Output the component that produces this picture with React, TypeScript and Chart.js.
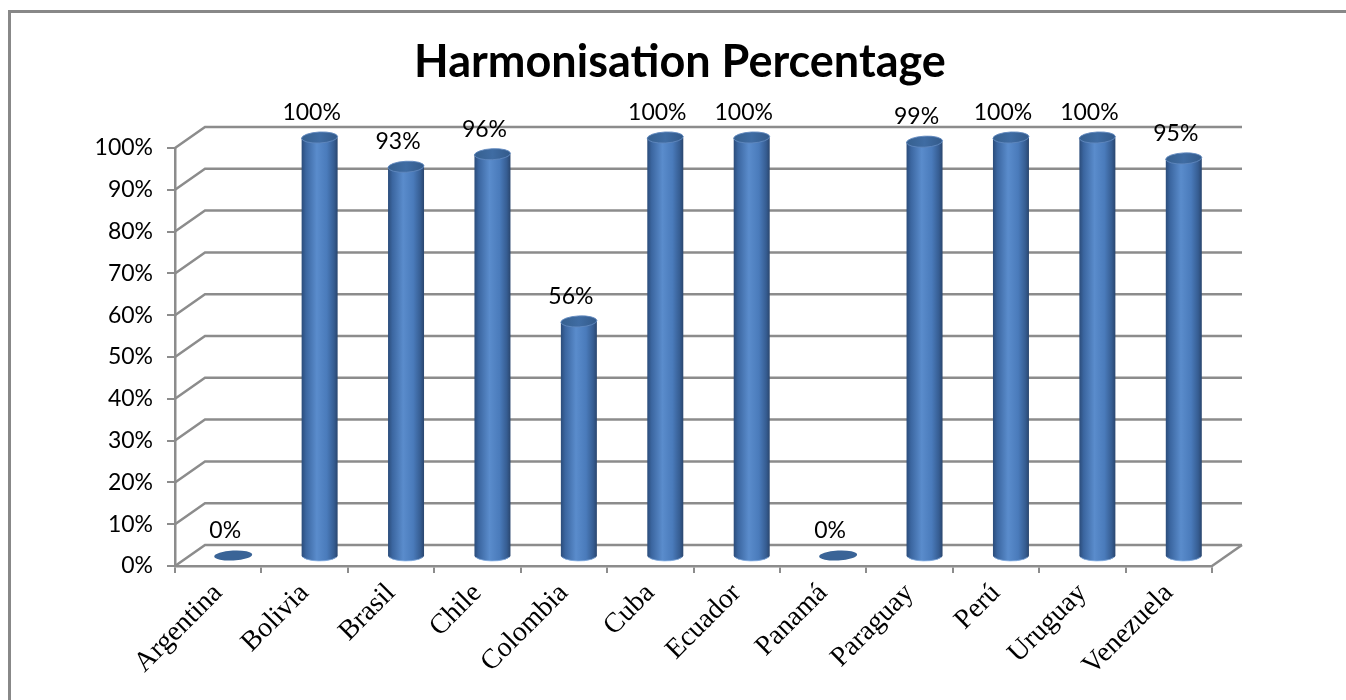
import React, { useEffect, useRef } from 'react';
import { Chart, registerables } from 'chart.js';

Chart.register(...registerables);

const categories = ['Argentina', 'Bolivia', 'Brasil', 'Chile', 'Colombia', 'Cuba', 'Ecuador', 'Panamá', 'Paraguay', 'Perú', 'Uruguay', 'Venezuela'];
const harmonisation = [0, 100, 93, 96, 56, 100, 100, 0, 99, 100, 100, 95];
const yTickValues = [0, 10, 20, 30, 40, 50, 60, 70, 80, 90, 100];
const titleText = 'Harmonisation Percentage';

const W = 1346;
const H = 700;
const DEPTH_X = 30;
const DEPTH_Y = 21;
const GRID = '#8c8c8c';
const SANS = 'Lato, "Noto Sans", sans-serif';

const wallPlugin = {
  id: 'wall3d',
  beforeDraw(chart: any) {
    const { ctx, chartArea } = chart;
    const { left, right, bottom } = chartArea;
    const y = chart.scales.y;
    ctx.save();
    // outer frame
    ctx.strokeStyle = '#888888';
    ctx.lineWidth = 3;
    ctx.beginPath();
    ctx.moveTo(9.5, chart.height);
    ctx.lineTo(9.5, 11.5);
    ctx.lineTo(chart.width, 11.5);
    ctx.stroke();
    // title
    ctx.fillStyle = '#000';
    ctx.font = `bold 45px ${SANS}`;
    ctx.textAlign = 'center';
    ctx.textBaseline = 'middle';
    ctx.fillText(titleText, 680, 62);
    // back wall + side wall grid
    ctx.strokeStyle = GRID;
    ctx.lineWidth = 2.5;
    yTickValues.forEach((v) => {
      const py = y.getPixelForValue(v);
      ctx.beginPath();
      ctx.moveTo(left, py);
      ctx.lineTo(left + DEPTH_X, py - DEPTH_Y);
      ctx.lineTo(right + DEPTH_X, py - DEPTH_Y);
      ctx.stroke();
    });
    ctx.beginPath();
    ctx.moveTo(right, bottom);
    ctx.lineTo(right + DEPTH_X, bottom - DEPTH_Y);
    ctx.stroke();
    ctx.restore();
  },
};

const cylinderPlugin = {
  id: 'cylinders',
  afterDatasetsDraw(chart: any) {
    const { ctx } = chart;
    const y = chart.scales.y;
    const meta = chart.getDatasetMeta(0);
    const rx = 18;
    const ry = 5.5;
    const tilt = -0.05;
    ctx.save();
    meta.data.forEach((bar: any, i: number) => {
      const v = harmonisation[i];
      const cx = bar.x + DEPTH_X / 2;
      const yb = y.getPixelForValue(0) - DEPTH_Y / 2;
      const yt = bar.y - DEPTH_Y / 2;
      if (yb - yt > 1) {
        const g = ctx.createLinearGradient(cx - rx, 0, cx + rx, 0);
        g.addColorStop(0, '#2b4c7a');
        g.addColorStop(0.12, '#3b66a0');
        g.addColorStop(0.42, '#5a8ccc');
        g.addColorStop(0.7, '#4a7bbb');
        g.addColorStop(0.9, '#365d92');
        g.addColorStop(1, '#2a466e');
        ctx.fillStyle = g;
        ctx.beginPath();
        ctx.moveTo(cx - rx, yt);
        ctx.lineTo(cx - rx, yb);
        ctx.ellipse(cx, yb, rx, ry, 0, Math.PI, 0, true);
        ctx.lineTo(cx + rx, yt);
        ctx.closePath();
        ctx.fill();
        // bottom rim highlight
        ctx.strokeStyle = 'rgba(140,180,230,0.7)';
        ctx.lineWidth = 1;
        ctx.beginPath();
        ctx.ellipse(cx, yb, rx - 0.5, ry, 0, Math.PI * 0.9, Math.PI * 0.1, true);
        ctx.stroke();
        // top cap
        const tg = ctx.createLinearGradient(cx - rx, 0, cx + rx, 0);
        tg.addColorStop(0, '#36608f');
        tg.addColorStop(0.5, '#3f6ca3');
        tg.addColorStop(1, '#335a8a');
        ctx.fillStyle = tg;
        ctx.beginPath();
        ctx.ellipse(cx, yt, rx, ry, tilt, 0, Math.PI * 2);
        ctx.fill();
        ctx.strokeStyle = 'rgba(95,135,190,0.9)';
        ctx.lineWidth = 1;
        ctx.stroke();
      } else {
        ctx.fillStyle = '#3a6497';
        ctx.beginPath();
        ctx.ellipse(cx, yb, rx + 1, ry - 0.5, tilt, 0, Math.PI * 2);
        ctx.fill();
      }
      // data label
      ctx.fillStyle = '#000';
      ctx.font = `23px ${SANS}`;
      ctx.textAlign = 'center';
      ctx.textBaseline = 'middle';
      ctx.fillText(`${v}%`, cx - 8, yt - 25);
    });
    ctx.restore();
  },
};

export default function App() {
  const ref = useRef<HTMLCanvasElement | null>(null);

  useEffect(() => {
    document.body.style.margin = '0';
    const canvas = ref.current;
    if (!canvas) return;
    const chart = new Chart(canvas, {
      type: 'bar',
      data: {
        labels: categories,
        datasets: [
          {
            label: 'Harmonisation',
            data: harmonisation,
            backgroundColor: 'rgba(0,0,0,0)',
            borderWidth: 0,
          },
        ],
      },
      options: {
        responsive: false,
        animation: false,
        devicePixelRatio: 1,
        layout: { padding: { top: 148, right: 134, left: 0, bottom: 0 } },
        plugins: {
          legend: { display: false },
          title: { display: false },
          tooltip: { enabled: false },
        },
        scales: {
          x: {
            grid: {
              drawOnChartArea: false,
              drawTicks: true,
              tickLength: 7,
              color: GRID,
              lineWidth: 2,
              offset: true,
            },
            border: { display: true, color: GRID, width: 2.5 },
            ticks: {
              autoSkip: false,
              maxRotation: 45,
              minRotation: 45,
              color: '#000',
              padding: 4,
              font: { family: '"Liberation Serif", "DejaVu Serif", serif', size: 28 },
            },
            afterFit: (scale: any) => {
              scale.height = H - 566;
            },
          },
          y: {
            min: 0,
            max: 100,
            ticks: {
              stepSize: 10,
              color: '#000',
              padding: 14,
              font: { family: SANS, size: 23 },
              callback: (v: any) => `${v}%`,
            },
            grid: {
              drawOnChartArea: false,
              drawTicks: true,
              tickLength: 8,
              color: GRID,
              lineWidth: 2,
            },
            border: { display: true, color: GRID, width: 2.5 },
            afterFit: (scale: any) => {
              scale.width = 175;
            },
          },
        },
      },
      plugins: [wallPlugin, cylinderPlugin],
    });
    return () => chart.destroy();
  }, []);

  return (
    <div style={{ position: 'absolute', left: 0, top: 0, width: W, height: H }}>
      <canvas ref={ref} width={W} height={H} style={{ width: W, height: H, display: 'block' }} />
    </div>
  );
}
